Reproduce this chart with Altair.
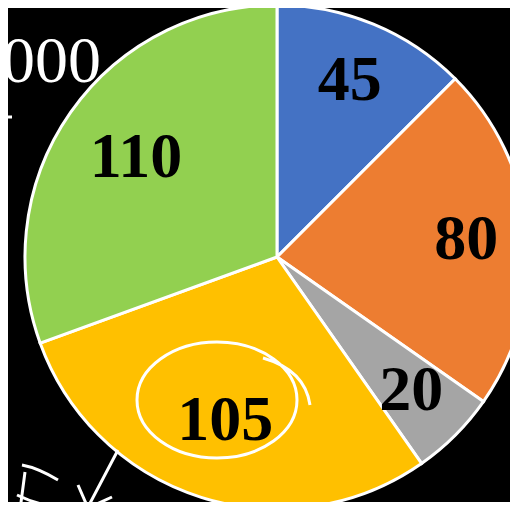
import altair as alt
import pandas as pd

values = [45, 80, 20, 105, 110]
labels = ["45", "80", "20", "105", "110"]
colors = ["#4472C4", "#ED7D31", "#A5A5A5", "#FFC000", "#92D050"]

df = pd.DataFrame({"idx": list(range(len(values))), "value": values, "label": labels})
total = sum(values)

CX, CY, R = 269, 249, 252
tscale = alt.Scale(domain=[0, total], range=[0, 6.283185307179586])

pie = alt.Chart(df).mark_arc(outerRadius=R, stroke="white", strokeWidth=3).encode(
    theta=alt.Theta("value:Q", stack=True, scale=tscale),
    order=alt.Order("idx:Q", sort="ascending"),
    x=alt.value(CX), y=alt.value(CY),
    color=alt.Color("idx:N", scale=alt.Scale(domain=list(range(len(values))), range=colors), legend=None),
)

txt_style = dict(font="Liberation Serif", fontSize=64, fontWeight="bold",
                 color="black", align="center", baseline="middle")

lbl_base = alt.Chart(df).transform_window(
    cum="sum(value)", sort=[alt.SortField("idx", order="ascending")]
).transform_calculate(mid="datum.cum - datum.value / 2").encode(
    theta=alt.Theta("mid:Q", stack=None, scale=tscale),
    x=alt.value(CX), y=alt.value(CY), text="label:N")

outer_lbl = lbl_base.transform_filter(alt.datum.idx < 3).mark_text(radius=190, **txt_style)
inner_lbl = lbl_base.transform_filter(alt.datum.idx >= 3).mark_text(radius=172, **txt_style)

one = pd.DataFrame({"a": [0]})
side_left = alt.Chart(one).mark_text(font="Liberation Serif", fontSize=66, color="white",
                                     align="right", baseline="alphabetic").encode(
    x=alt.value(93), y=alt.value(74), text=alt.value("2000"))
side_right = alt.Chart(one).mark_text(font="Liberation Serif", fontSize=64, color="white",
                                      align="left", baseline="alphabetic").encode(
    x=alt.value(501), y=alt.value(84), text=alt.value("D"))

# hand-drawn annotations (pen strokes)
pen = ("M129,392 A80,58 0 1 1 289,392 A80,58 0 1 1 129,392 "
       "M255,350 Q297,362 302,397 "
       "M110,442 L80,499 M70,477 L80,500 L104,489 "
       "M17,464 L12,502 M14,457 Q30,460 50,472 M9,487 Q30,497 50,499 "
       "M0,109 L4,109")
annot = alt.Chart(one).mark_point(shape=pen, size=4, filled=False, stroke="white",
                                   strokeWidth=3, opacity=1).encode(
    x=alt.value(0), y=alt.value(0))

chart = alt.layer(pie, outer_lbl, inner_lbl, side_left, side_right, annot).properties(
    width=502, height=494, background="black", padding=0,
    autosize=alt.AutoSizeParams(type="none")
).configure_view(stroke=None)

chart.save("out.html", embed_options={"renderer": "svg", "actions": False})
